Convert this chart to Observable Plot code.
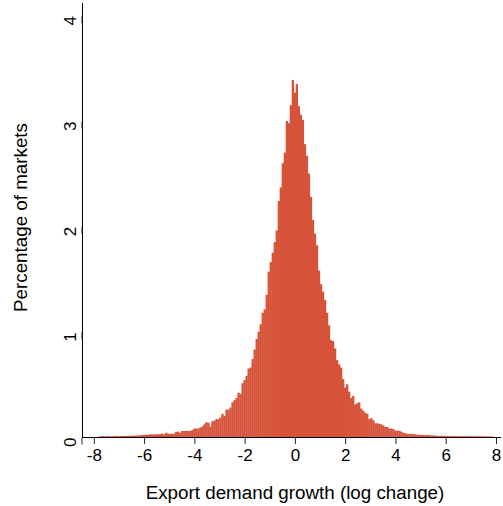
<!DOCTYPE html>
<html>
<head>
<meta charset="utf-8">
<script src="https://cdn.jsdelivr.net/npm/d3@7"></script>
<script src="https://cdn.jsdelivr.net/npm/@observablehq/plot@0.6"></script>
<style>
  html, body { margin: 0; padding: 0; background: #fff; }
  #chart svg { display: block; }
</style>
</head>
<body>
<div id="chart"></div>
<script>
// Histogram bins: left edge of first bin and bin width (log change)
const binStart = -7.80;
const binWidth = 0.08;
// Percentage of markets in each bin
const heights = [
  // -7.80 .. -6.28
  0.006,0.008,0.007,0.008,0.009,0.008,0.007,0.009,0.010,0.008,
  0.009,0.010,0.009,0.011,0.010,0.012,0.011,0.012,0.013,0.014,
  // -6.20 .. -2.52
  0.015,0.018,0.020,0.020,0.022,0.025,0.024,0.025,0.026,0.025,
  0.027,0.032,0.025,0.040,0.030,0.031,0.030,0.032,0.050,0.050,
  0.040,0.057,0.057,0.058,0.057,0.058,0.066,0.080,0.080,0.081,
  0.090,0.100,0.120,0.140,0.135,0.100,0.150,0.155,0.170,0.170,
  0.185,0.220,0.200,0.260,0.260,0.280,0.330,
  // -2.44 .. -0.12
  0.35,0.37,0.42,0.41,0.51,0.54,0.58,0.65,0.66,0.74,
  0.83,0.93,1.00,1.07,1.18,1.21,1.35,1.57,1.66,1.75,
  1.85,1.96,2.24,2.37,2.60,2.70,3.00,2.98,3.15,3.39,
  // -0.04 .. 2.12
  3.27,3.35,3.14,3.06,3.01,2.78,2.67,2.50,2.28,2.06,
  1.93,1.82,1.58,1.45,1.38,1.30,1.18,1.06,0.92,0.91,
  0.84,0.73,0.69,0.66,0.55,0.47,0.50,0.43,
  // 2.20 .. 4.28
  0.37,0.39,0.31,0.32,0.33,0.27,0.25,0.23,0.22,0.17,
  0.18,0.16,0.13,0.13,0.125,0.12,0.11,0.095,0.095,0.08,
  0.08,0.075,0.06,0.06,0.06,0.05,0.04,
  // 4.36 .. 5.56
  0.035,0.030,0.030,0.030,0.028,0.025,0.020,0.022,0.020,0.020,
  0.018,0.020,0.016,0.015,0.015,0.013,
  // 5.64 .. 7.80
  0.012,0.011,0.012,0.010,0.011,0.010,0.009,0.010,0.009,0.008,
  0.009,0.008,0.009,0.008,0.007,0.008,0.007,0.008,0.007,0.006,
  0.007,0.006,0.007,0.006,0.006,0.005,0.006,0.005
];
const xTicks = [-8, -6, -4, -2, 0, 2, 4, 6, 8];
const yTicks = [0, 1, 2, 3, 4];
const xTitle = "Export demand growth (log change)";
const yTitle = "Percentage of markets";

const bins = heights.map((h, i) => ({
  x1: binStart + i * binWidth,
  x2: binStart + (i + 1) * binWidth,
  pct: h
}));

const barColor = "#d65339";
const xMin = -8.47, xMax = 8.2;
const fmt = d => String(d); // plain hyphen minus like the reference

const chart = Plot.plot({
  width: 503,
  height: 506,
  marginLeft: 82,
  marginRight: 2,
  marginTop: 3,
  marginBottom: 69,
  style: {
    fontFamily: "'Liberation Sans', Arial, Helvetica, sans-serif",
    fontSize: "17px",
    color: "#000",
    background: "#fff"
  },
  x: { domain: [xMin, xMax] },
  y: { domain: [0, 4.12] },
  marks: [
    Plot.rectY(bins, {
      x1: "x1", x2: "x2", y: "pct",
      fill: barColor,
      insetLeft: -0.15, insetRight: -0.15
    }),
    Plot.ruleY([0], { stroke: "#000", strokeWidth: 1 }),
    Plot.ruleX([xMin], { stroke: "#000", strokeWidth: 1 }),
    Plot.axisX(xTicks, {
      tickSize: 7,
      tickPadding: 4,
      fontSize: 17,
      tickFormat: fmt,
      stroke: "#222",
      label: null
    }),
    Plot.axisY(yTicks, {
      tickSize: 7,
      tickPadding: 5,
      fontSize: 17,
      tickFormat: fmt,
      rotate: -90,
      stroke: "#222",
      label: null
    }),
    Plot.text([xTitle], {
      text: d => d,
      frameAnchor: "bottom",
      lineAnchor: "middle",
      textAnchor: "middle",
      dx: 3,
      dy: 55,
      fontSize: 18.8,
      fill: "#000"
    }),
    Plot.text([yTitle], {
      text: d => d,
      frameAnchor: "left",
      lineAnchor: "middle",
      textAnchor: "middle",
      rotate: -90,
      dx: -62,
      dy: -3,
      fontSize: 18.8,
      fill: "#000"
    })
  ]
});

document.getElementById("chart").appendChild(chart);
</script>
</body>
</html>
